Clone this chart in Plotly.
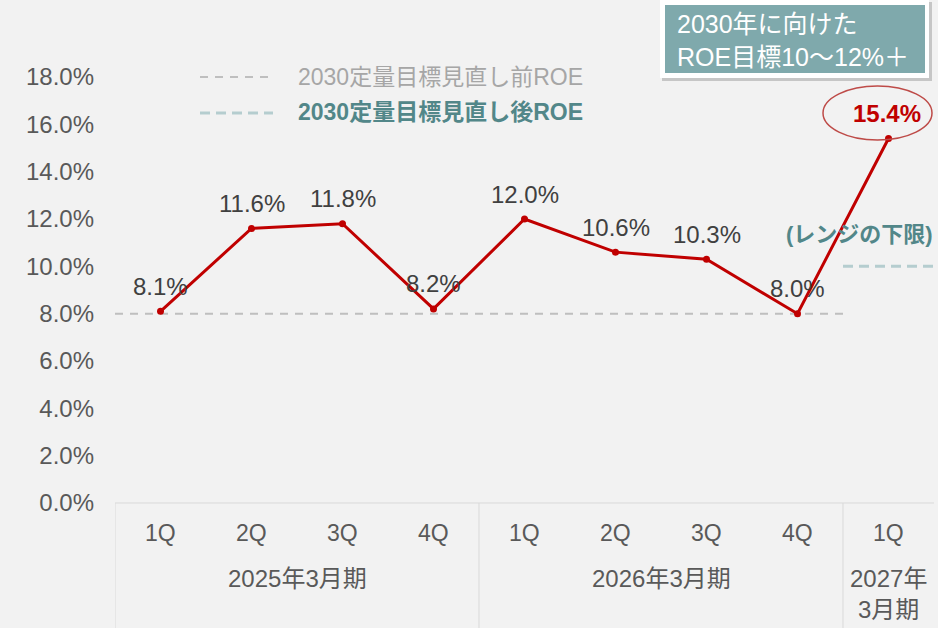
import plotly.graph_objects as go

# ---- data ----
quarters = ["1Q", "2Q", "3Q", "4Q", "1Q", "2Q", "3Q", "4Q", "1Q"]
fiscal_years = ["2025年3月期", "2026年3月期", "2027年<br>3月期"]
fy_quarter_counts = [4, 4, 1]
roe = [8.1, 11.6, 11.8, 8.2, 12.0, 10.6, 10.3, 8.0, 15.4]
roe_target_before = 8.0
roe_target_after_low = 10.0
legend_names = ["2030定量目標見直し前ROE", "2030定量目標見直し後ROE"]
range_label = "(レンジの下限)"
target_box_text = "2030年に向けた<br>ROE目標10～12%＋"
y_ticks = [0, 2, 4, 6, 8, 10, 12, 14, 16, 18]
y_tick_text = [f"{v:.1f}%" for v in y_ticks]

# ---- layout geometry ----
W, H = 938, 628
ML, MR, MT, MB = 115, 4, 77, 125
PW, PH = W - ML - MR, H - MT - MB

def px2x(px):
    return (px - ML) / PW

def px2y(py):
    return (H - MB - py) / PH

FONT = "Liberation Sans, Arial, Noto Sans CJK JP"
NARROW = "Liberation Sans Narrow, Liberation Sans, Noto Sans CJK JP"
RED = "#C00000"
TEAL_TXT = "#528789"
TEAL_LINE = "#B5CDCF"
GRAY_LINE = "#BFBFBF"

n = len(roe)
xs = list(range(n))
bounds = [-0.5]
for c in fy_quarter_counts:
    bounds.append(bounds[-1] + c)

fig = go.Figure()

fig.add_trace(go.Scatter(
    x=[bounds[0], bounds[2]], y=[roe_target_before, roe_target_before],
    mode="lines", line=dict(color=GRAY_LINE, width=2, dash="8px,7px"),
    hoverinfo="skip", showlegend=False))
fig.add_trace(go.Scatter(
    x=[bounds[2], bounds[3]], y=[roe_target_after_low, roe_target_after_low],
    mode="lines", line=dict(color=TEAL_LINE, width=3, dash="10px,6px"),
    hoverinfo="skip", showlegend=False))
fig.add_trace(go.Scatter(
    x=xs, y=roe, mode="lines+markers",
    line=dict(color=RED, width=3),
    marker=dict(color=RED, size=7),
    showlegend=False, cliponaxis=False))

annotations = []
for i, v in enumerate(roe):
    last = i == n - 1
    annotations.append(dict(
        x=i, y=v, text=(f"<b>{v:.1f}%</b>" if last else f"{v:.1f}%"),
        showarrow=False, yshift=25, xshift=(-2 if last else 0),
        xanchor="center", yanchor="middle",
        font=dict(family=FONT, size=24,
                  color=RED if last else "#404040")))

for i, q in enumerate(quarters):
    annotations.append(dict(
        x=i, y=0, yref="y", text=q, showarrow=False, yshift=-30,
        xanchor="center", yanchor="middle",
        font=dict(family=NARROW, size=23, color="#595959")))

for k, fy in enumerate(fiscal_years):
    cx = (bounds[k] + bounds[k + 1]) / 2
    two = "<br>" in fy
    annotations.append(dict(
        x=cx, y=0, yref="y", text=fy, showarrow=False,
        yshift=(-91 if two else -75),
        xanchor="center", yanchor="middle",
        font=dict(family=NARROW, size=24, color="#595959")))

annotations.append(dict(
    x=px2x(296), y=px2y(77), xref="paper", yref="paper",
    xanchor="left", yanchor="middle",
    text=legend_names[0], showarrow=False,
    font=dict(family=FONT, size=23, color="#A6A6A6")))
annotations.append(dict(
    x=px2x(296), y=px2y(112), xref="paper", yref="paper",
    xanchor="left", yanchor="middle",
    text=f"<b>{legend_names[1]}</b>", showarrow=False,
    font=dict(family=FONT, size=23, color=TEAL_TXT)))

annotations.append(dict(
    x=px2x(935), y=px2y(234), xref="paper", yref="paper",
    xanchor="right", yanchor="middle",
    text=f"<b>{range_label}</b>", showarrow=False,
    font=dict(family=FONT, size=22, color=TEAL_TXT)))

annotations.append(dict(
    x=px2x(675), y=px2y(41), xref="paper", yref="paper",
    xanchor="left", yanchor="middle",
    align="left", text=target_box_text, showarrow=False,
    font=dict(family=FONT, size=25, color="white")))

shapes = []
shapes.append(dict(type="line", xref="x", yref="paper",
                   x0=bounds[0], x1=bounds[-1] + 0.1, y0=0, y1=0,
                   line=dict(color="#D9D9D9", width=1)))
for b in bounds[:-1]:
    shapes.append(dict(type="line", xref="x", yref="paper",
                       x0=b, x1=b, y0=0, y1=-MB / PH,
                       line=dict(color="#D9D9D9", width=1)))
shapes.append(dict(type="line", xref="paper", yref="paper",
                   x0=px2x(200), x1=px2x(273), y0=px2y(77), y1=px2y(77),
                   line=dict(color=GRAY_LINE, width=2, dash="8px,7px")))
shapes.append(dict(type="line", xref="paper", yref="paper",
                   x0=px2x(200), x1=px2x(273), y0=px2y(113), y1=px2y(113),
                   line=dict(color=TEAL_LINE, width=3, dash="10px,6px")))
shapes.append(dict(type="rect", xref="paper", yref="paper", layer="above",
                   x0=px2x(662), x1=px2x(932), y0=px2y(81), y1=px2y(2),
                   fillcolor="rgba(0,0,0,0.18)", line=dict(width=0)))
shapes.append(dict(type="rect", xref="paper", yref="paper", layer="above",
                   x0=px2x(660), x1=px2x(929), y0=px2y(78), y1=px2y(0),
                   fillcolor="white", line=dict(width=0)))
shapes.append(dict(type="rect", xref="paper", yref="paper", layer="above",
                   x0=px2x(665), x1=px2x(925), y0=px2y(73), y1=px2y(5),
                   fillcolor="#7FA9AC", line=dict(width=0)))
shapes.append(dict(type="circle", xref="paper", yref="paper", layer="above",
                   x0=px2x(823), x1=px2x(932), y0=px2y(140), y1=px2y(86),
                   line=dict(color="#BE4B48", width=1.5)))

fig.update_layout(
    width=W, height=H,
    margin=dict(l=ML, r=MR, t=MT, b=MB),
    paper_bgcolor="#F2F2F2", plot_bgcolor="#F2F2F2",
    showlegend=False,
    xaxis=dict(range=[bounds[0], bounds[-1]], showgrid=False, zeroline=False,
               showline=False, showticklabels=False, ticks="", fixedrange=True),
    yaxis=dict(range=[0, 18], tickmode="array", tickvals=y_ticks,
               ticktext=y_tick_text,
               showgrid=False, zeroline=False, showline=False, ticks="",
               ticklabelstandoff=20,
               tickfont=dict(family=FONT, size=24, color="#595959")),
    annotations=annotations, shapes=shapes,
)

fig.write_html("out.html")
